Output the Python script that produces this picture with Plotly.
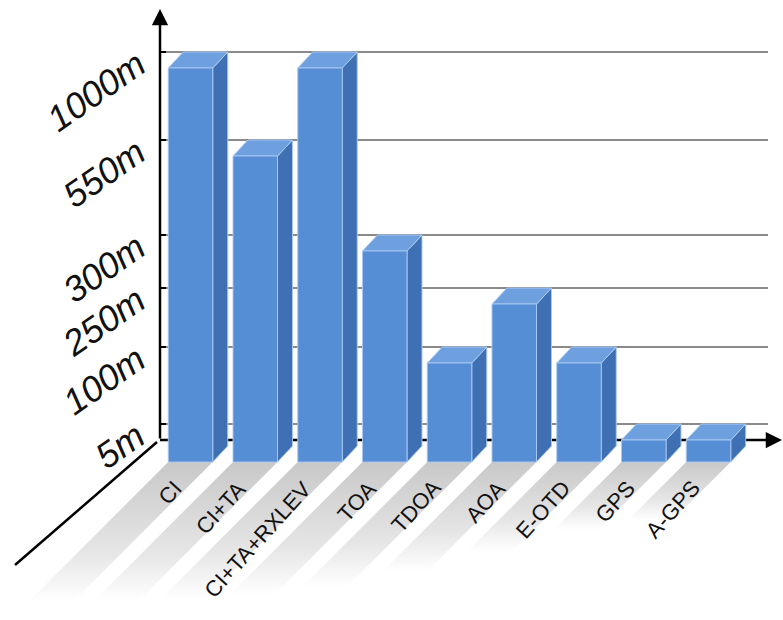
import numpy as np
import plotly.graph_objects as go

# ---- data -------------------------------------------------------------
methods = ["CI", "CI+TA", "CI+TA+RXLEV", "TOA", "TDOA", "AOA", "E-OTD", "GPS", "A-GPS"]
accuracy_m = [1000, 550, 1000, 300, 100, 250, 100, 5, 5]

tick_m = [5, 100, 250, 300, 550, 1000]
tick_text = ["5m", "100m", "250m", "300m", "550m", "1000m"]

# value axis break points: metres -> height on the back wall
scale_m = [0, 5, 100, 250, 300, 550, 1000]
scale_h = [0, 22, 99, 158, 211, 306, 394]

# ---- geometry / style ---------------------------------------------------
W, H = 783, 620
X0_PX, X_STEP = 205.5, 64.75      # back-face centre of first category, category pitch
Y0_PX = 446                        # floor level on the back wall
HALF_W = 22.25 / X_STEP            # half bar width (category units)
DEPTH_X = 15 / X_STEP              # 3D depth offset
DEPTH_Y = 16

FRONT = "#558ED5"
SIDE = "#3F70B3"
TOP = "#6EA0E0"
EDGE = "rgba(170,200,240,0.95)"
GRID = "#8a8a8a"
shadow_len = [140, 140, 138, 133, 125, 110, 90, 68, 58]


def ux(px):
    return (px - X0_PX) / X_STEP


def uy(py):
    return Y0_PX - py


def height(m):
    return float(np.interp(m, scale_m, scale_h))


fig = go.Figure()

# floor reflections under each bar
for i, L in enumerate(shadow_len):
    fl = i - HALF_W - DEPTH_X
    fr = i + HALF_W - DEPTH_X
    y_top = -DEPTH_Y
    y_bot = y_top - L
    sx = L * 1.0 / X_STEP
    fig.add_trace(go.Scatter(
        x=[fl, fr, fr - sx, fl - sx, fl],
        y=[y_top, y_top, y_bot, y_bot, y_top],
        mode="lines", line=dict(width=0), fill="toself",
        fillgradient=dict(type="vertical",
                          colorscale=[[0, "rgba(255,255,255,1)"], [0.35, "rgb(230,230,230)"], [1, "rgb(200,200,200)"]],
                          start=y_bot, stop=y_top),
        hoverinfo="skip", showlegend=False))

# horizontal grid lines on the back wall
gx, gy = [], []
for m in tick_m:
    h = height(m)
    gx += [ux(160), ux(768), None]
    gy += [h, h, None]
fig.add_trace(go.Scatter(x=gx, y=gy, mode="lines", line=dict(color=GRID, width=2),
                         hoverinfo="skip", showlegend=False))

# category axis line (passes behind the bars)
fig.add_trace(go.Scatter(x=[ux(160), ux(772)], y=[uy(440), uy(440)], mode="lines",
                         line=dict(color="black", width=2.5), hoverinfo="skip", showlegend=False))

# depth edge of the floor
fig.add_trace(go.Scatter(x=[ux(157), ux(15)], y=[uy(442), uy(565)], mode="lines",
                         line=dict(color="black", width=2.5), hoverinfo="skip", showlegend=False))

# y-axis tick marks
tx, ty = [], []
for h in [uy(440)] + [height(m) for m in tick_m]:
    tx += [ux(160), ux(166), None]
    ty += [h, h, None]
fig.add_trace(go.Scatter(x=tx, y=ty, mode="lines", line=dict(color="black", width=2),
                         hoverinfo="skip", showlegend=False))

# 3D bars
for i, m in enumerate(accuracy_m):
    top = height(m)
    bl, br = i - HALF_W, i + HALF_W
    fl, fr = bl - DEPTH_X, br - DEPTH_X
    ft, fb = top - DEPTH_Y, -DEPTH_Y
    faces = [
        ([fr, br, br, fr, fr], [fb, 0, top, ft, fb], SIDE),
        ([fl, bl, br, fr, fl], [ft, top, top, ft, ft], TOP),
        ([fl, fr, fr, fl, fl], [fb, fb, ft, ft, fb], FRONT),
    ]
    for xs, ys, col in faces:
        fig.add_trace(go.Scatter(x=xs, y=ys, mode="lines", fill="toself", fillcolor=col,
                                 line=dict(color=EDGE, width=1),
                                 hoverinfo="skip", showlegend=False))

annotations = []

# value labels, slanted along the wall
Y_ANG = 35
FS_Y = 36
ca, sa = np.cos(np.radians(Y_ANG)), np.sin(np.radians(Y_ANG))
for m, t in zip(tick_m, tick_text):
    L = ((len(t) - 1) * 0.556 + 0.833) * FS_Y
    Hc = 0.716 * FS_Y
    w = L * ca + Hc * sa
    hgt = L * sa + Hc * ca
    grid_py = Y0_PX - height(m)
    cx = 148 - w / 2
    cy = grid_py + hgt / 2 - 3
    annotations.append(dict(x=ux(cx), y=uy(cy), xref="x", yref="y", text=t, showarrow=False,
                            textangle=-Y_ANG, xanchor="center", yanchor="middle",
                            font=dict(family="Arial, Liberation Sans", size=FS_Y, color="#111111",
                                      style="italic")))

# category labels along the floor
char_w = {"C": .722, "I": .278, "+": .584, "T": .611, "A": .667, "R": .722, "X": .667, "L": .556,
          "E": .667, "V": .667, "O": .778, "D": .722, "-": .333, "G": .778, "P": .667, "S": .667}
X_ANG = 48
FS_X = 22
cb, sb = np.cos(np.radians(X_ANG)), np.sin(np.radians(X_ANG))
for i, name in enumerate(methods):
    L = sum(char_w.get(c, .6) for c in name) * FS_X
    Hc = 0.716 * FS_X
    w = L * cb + Hc * sb
    hgt = L * sb + Hc * cb
    front_c_px = X0_PX + i * X_STEP - 15
    right = front_c_px - 7
    cx = right - w / 2
    cy = 479 + hgt / 2
    annotations.append(dict(x=ux(cx), y=uy(cy), xref="x", yref="y", text=name, showarrow=False,
                            textangle=-X_ANG, xanchor="center", yanchor="middle",
                            font=dict(family="Arial, Liberation Sans", size=FS_X, color="#111111")))

# axis arrows
annotations.append(dict(x=ux(160), y=uy(9), xref="x", yref="y", ax=0, ay=431, text="",
                        showarrow=True, arrowhead=2, arrowsize=1.3, arrowwidth=2.5, arrowcolor="black"))
annotations.append(dict(x=ux(782), y=uy(440), xref="x", yref="y", ax=-14, ay=0, text="",
                        showarrow=True, arrowhead=2, arrowsize=1.3, arrowwidth=2.5, arrowcolor="black"))

fig.update_layout(
    width=W, height=H,
    margin=dict(l=0, r=0, t=0, b=0),
    paper_bgcolor="white", plot_bgcolor="white",
    xaxis=dict(range=[ux(0), ux(W)], visible=False, fixedrange=True),
    yaxis=dict(range=[uy(H), uy(0)], visible=False, fixedrange=True),
    annotations=annotations,
    showlegend=False,
)

fig.write_html("out.html")
